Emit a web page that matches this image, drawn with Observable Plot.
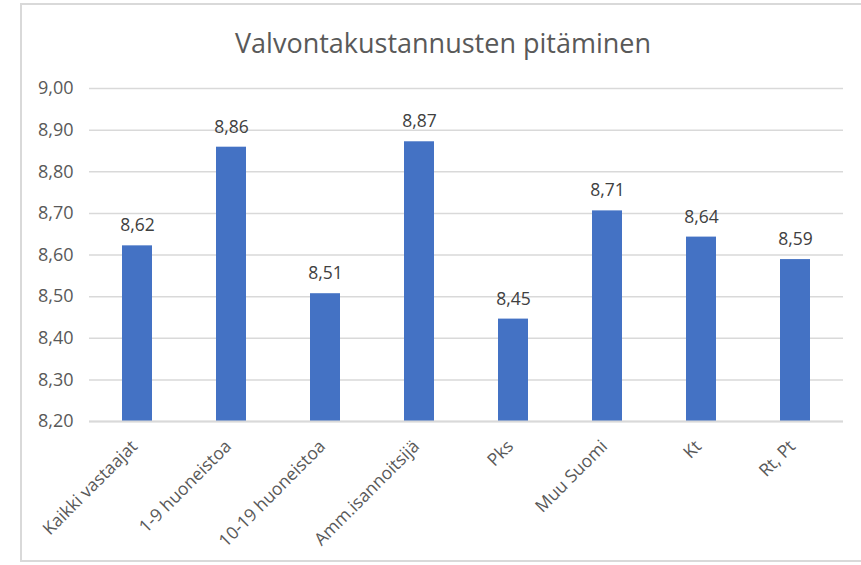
<!DOCTYPE html>
<html>
<head>
<meta charset="utf-8">
<script src="https://cdn.jsdelivr.net/npm/d3@7"></script>
<script src="https://cdn.jsdelivr.net/npm/@observablehq/plot@0.6"></script>
<style>
  html, body { margin: 0; padding: 0; background: #fff; }
  #wrap { position: relative; width: 861px; height: 565px; overflow: hidden; font-family: "Open Sans", sans-serif; }
  #frame { position: absolute; left: 20px; top: 3px; width: 900px; height: 559px; border: 2px solid #d9d9d9; box-sizing: border-box; }
  #title { position: absolute; left: 21px; width: 844px; top: 24px; text-align: center; font-size: 27px; color: #595959; }
  #chart { position: absolute; left: 0; top: 0; }
</style>
</head>
<body>
<div id="wrap">
  <div id="frame"></div>
  <div id="title">Valvontakustannusten pitäminen</div>
  <div id="chart"></div>
</div>
<script>
const title = "Valvontakustannusten pitäminen";
const categories = ["Kaikki vastaajat", "1-9 huoneistoa", "10-19 huoneistoa", "Amm.isannoitsijä", "Pks", "Muu Suomi", "Kt", "Rt, Pt"];
const values = [8.622, 8.859, 8.507, 8.872, 8.446, 8.706, 8.643, 8.589];
const yTicks = [8.2, 8.3, 8.4, 8.5, 8.6, 8.7, 8.8, 8.9, 9.0];

const data = categories.map((c, i) => ({category: c, value: values[i]}));
const fmt = d => d.toFixed(2).replace(".", ",");

const chart = Plot.plot({
  width: 861,
  height: 565,
  marginLeft: 89,
  marginRight: 18,
  marginTop: 88,
  marginBottom: 144,
  style: {background: "transparent", fontFamily: "Open Sans, sans-serif"},
  x: {domain: categories, paddingInner: 0.68, paddingOuter: 0.34, label: null},
  y: {domain: [8.2, 9.0], label: null},
  marks: [
    Plot.gridY(yTicks, {stroke: "#d9d9d9", strokeOpacity: 1, strokeWidth: 1.5}),
    Plot.axisY(yTicks, {tickSize: 0, tickPadding: 16, tickFormat: fmt, fontSize: 18, fill: "#595959", label: null}),
    Plot.barY(data, {x: "category", y1: 8.2, y2: "value", fill: "#4472C4"}),
    Plot.ruleY([8.2], {stroke: "#d9d9d9", strokeWidth: 2}),
    Plot.text(data, {x: "category", y: "value", text: d => fmt(d.value), dy: -20, fontSize: 17.5, fill: "#404040", lineAnchor: "middle"}),
    Plot.axisX({tickSize: 0, tickPadding: 16, tickRotate: -45, dx: -3, dy: 6, fontSize: 17.5, fill: "#595959", label: null})
  ]
});
document.getElementById("chart").appendChild(chart);
</script>
</body>
</html>
